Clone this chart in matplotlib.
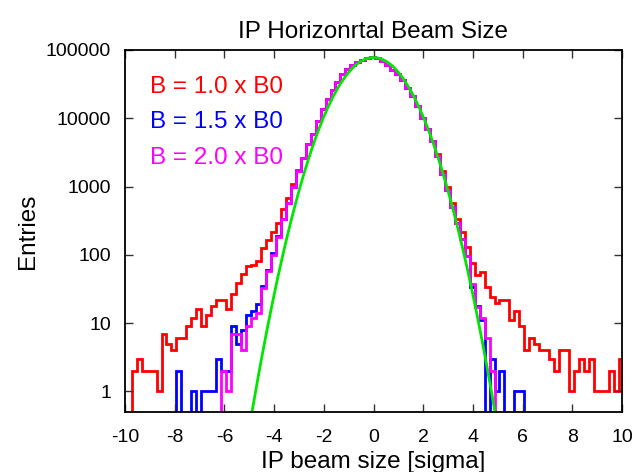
import numpy as np
import matplotlib
matplotlib.use("Agg")
import matplotlib.pyplot as plt

# histogram binning (sigma units)
binLow = -9.93
binWidth = 0.2

# entries per bin, 100 bins
entriesB10 = [
    0, 2, 3, 2, 2, 2, 1, 7, 5, 4,
    6, 6, 9, 12, 16, 9, 13, 18, 22, 22,
    16, 27, 39, 53, 68, 70, 80, 125, 163, 215,
    296, 475, 680, 1100, 1750, 2660, 4190, 5900, 9200, 13500,
    19000, 26000, 34500, 44200, 52000, 61000, 66000, 72000, 76000, 78000,
    76000, 69000, 61000, 51000, 44200, 36600, 27500, 21000, 15000, 10100,
    6900, 4670, 3000, 1690, 1000, 570, 335, 215, 130, 75,
    50, 56, 34, 24, 20, 22, 22, 11, 15, 9,
    4, 6, 5, 4, 4, 3, 2, 4, 4, 1,
    2, 3, 2, 3, 1, 1, 1, 2, 1, 3,
]
entriesB15 = [
    0, 0, 0, 0, 0, 0, 0, 0, 0, 0,
    2, 0, 0, 1, 0, 1, 1, 1, 3, 2,
    2, 9, 5, 8, 13, 15, 19, 35, 60, 105,
    190, 330, 580, 1000, 1690, 2660, 4190, 5900, 9200, 13500,
    19000, 26000, 34500, 44200, 52000, 61000, 66000, 72000, 76000, 78000,
    76000, 69000, 61000, 51000, 44200, 36600, 27500, 21000, 15000, 10100,
    6900, 4670, 2800, 1550, 900, 500, 290, 170, 95, 34,
    18, 11, 0, 3, 1, 2, 0, 0, 1, 1,
    0, 0, 0, 0, 0, 0, 0, 0, 0, 0,
    0, 0, 0, 0, 0, 0, 0, 0, 0, 0,
]
entriesB20 = [
    0, 0, 0, 0, 0, 0, 0, 0, 0, 0,
    0, 0, 0, 0, 0, 0, 0, 0, 0, 2,
    1, 7, 7, 4, 9, 12, 14, 33, 58, 100,
    185, 330, 580, 1000, 1690, 2660, 4190, 5900, 9200, 13500,
    19000, 26000, 34500, 44200, 52000, 61000, 66000, 72000, 76000, 78000,
    76000, 69000, 61000, 51000, 44200, 36600, 27500, 21000, 15000, 10100,
    6900, 4670, 2800, 1550, 900, 500, 290, 170, 95, 38,
    17, 12, 6, 2, 0, 0, 0, 0, 0, 0,
    0, 0, 0, 0, 0, 0, 0, 0, 0, 0,
    0, 0, 0, 0, 0, 0, 0, 0, 0, 0,
]
labels = ["B = 1.0 x B0", "B = 1.5 x B0", "B = 2.0 x B0"]
colors = ["#ff0000", "#0000ff", "#ff00ff"]

# gaussian fit drawn in green
fitAmp = 77700
fitMean = 0.0
fitSigma = 1.0

xTicks = [-10, -8, -6, -4, -2, 0, 2, 4, 6, 8, 10]
yTicks = [1, 10, 100, 1000, 10000, 100000]
yTickLabels = ["1", "10", "100", "1000", "10000", "100000"]

plt.rcParams["font.family"] = ["Liberation Sans", "DejaVu Sans"]

fig = plt.figure(figsize=(6.36, 4.72), dpi=100)
ax = fig.add_axes([125 / 636, 1 - 412 / 472, 497 / 636, 362 / 472])

edges = binLow + binWidth * np.arange(len(entriesB10) + 1)
for vals, col in zip([entriesB10, entriesB15, entriesB20], colors):
    ax.stairs(vals, edges, color=col, lw=2, baseline=None)

xFit = np.linspace(-10, 10, 1000)
ax.plot(xFit, fitAmp * np.exp(-0.5 * ((xFit - fitMean) / fitSigma) ** 2), color="#00e600", lw=2)

ax.set_yscale("log", nonpositive="clip")
ax.set_xlim(-10, 10)
ax.set_ylim(0.5, 1e5)
ax.set_xticks(xTicks)
ax.set_xticklabels([str(t) for t in xTicks])
ax.set_yticks(yTicks)
ax.set_yticklabels(yTickLabels)
ax.minorticks_off()
ax.tick_params(direction="in", top=True, right=True, length=6, width=1, color="#333333",
               labelsize=14, pad=10)
ax.tick_params(axis="x", pad=12)
for s in ax.spines.values():
    s.set_linewidth(1.3)

ax.set_title("IP Horizonrtal Beam Size", fontsize=17.5, pad=9)
ax.set_xlabel("IP beam size [sigma]", fontsize=17.5, labelpad=4)
ax.set_ylabel("Entries", fontsize=17.5, labelpad=5)

for i, (lab, col) in enumerate(zip(labels, colors)):
    fig.text(150 / 636, 1 - (93 + 35.5 * i) / 472, lab, color=col, fontsize=17.5, va="baseline")

fig.savefig("out.png", dpi=100)
